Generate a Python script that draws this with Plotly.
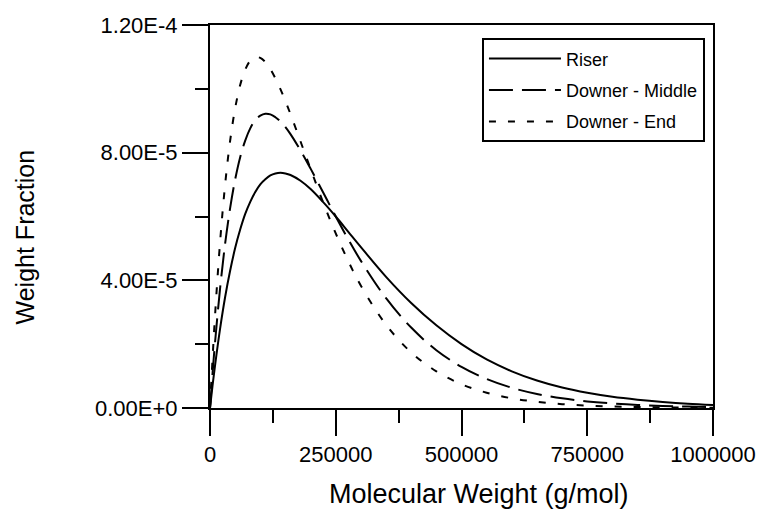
import plotly.graph_objects as go

# Molecular weight grid (g/mol)
mw = [0, 5000, 10000, 20000, 30000, 40000, 50000, 60000, 70000, 80000, 90000,
      100000, 110000, 120000, 130000, 140000, 150000, 160000, 180000, 200000,
      225000, 250000, 275000, 300000, 350000, 400000, 450000, 500000, 550000,
      600000, 650000, 700000, 750000, 800000, 850000, 900000, 950000, 1000000]

riser = [0, 6.9e-6, 1.33e-5, 2.48e-5, 3.47e-5, 4.30e-5, 5.01e-5, 5.59e-5, 6.08e-5,
         6.46e-5, 6.77e-5, 7.01e-5, 7.17e-5, 7.29e-5, 7.35e-5, 7.37e-5, 7.35e-5,
         7.30e-5, 7.12e-5, 6.86e-5, 6.45e-5, 6.00e-5, 5.52e-5, 5.04e-5, 4.11e-5,
         3.29e-5, 2.59e-5, 2.00e-5, 1.52e-5, 1.15e-5, 8.6e-6, 6.4e-6, 4.75e-6,
         3.5e-6, 2.6e-6, 1.9e-6, 1.35e-6, 0.95e-6]

downer_middle = [0, 1.07e-5, 2.05e-5, 3.74e-5, 5.14e-5, 6.26e-5, 7.16e-5, 7.86e-5,
                 8.38e-5, 8.76e-5, 9.02e-5, 9.16e-5, 9.22e-5, 9.20e-5, 9.11e-5,
                 8.98e-5, 8.80e-5, 8.58e-5, 8.07e-5, 7.50e-5, 6.75e-5, 6.00e-5,
                 5.28e-5, 4.61e-5, 3.44e-5, 2.52e-5, 1.81e-5, 1.29e-5, 9.07e-6,
                 6.33e-6, 4.39e-6, 3.02e-6, 2.07e-6, 1.42e-6, 9.6e-7, 6.5e-7,
                 4.4e-7, 3.0e-7]

downer_end = [0, 1.52e-5, 2.89e-5, 5.19e-5, 6.99e-5, 8.37e-5, 9.39e-5, 1.012e-4,
              1.060e-4, 1.088e-4, 1.099e-4, 1.097e-4, 1.084e-4, 1.062e-4, 1.033e-4,
              9.99e-5, 9.61e-5, 9.21e-5, 8.35e-5, 7.49e-5, 6.44e-5, 5.47e-5,
              4.60e-5, 3.83e-5, 2.61e-5, 1.74e-5, 1.15e-5, 7.43e-6, 4.78e-6,
              3.04e-6, 1.93e-6, 1.21e-6, 7.6e-7, 4.7e-7, 2.9e-7, 1.8e-7, 1.1e-7,
              7e-8]

x_ticks = [0, 250000, 500000, 750000, 1000000]
x_tick_labels = ["0", "250000", "500000", "750000", "1000000"]
x_minor = [125000, 375000, 625000, 875000]
y_ticks = [0, 4e-5, 8e-5, 1.2e-4]
y_tick_labels = ["0.00E+0", "4.00E-5", "8.00E-5", "1.20E-4"]
y_minor = [2e-5, 6e-5, 1e-4]

FONT = "Liberation Sans, Arial, sans-serif"

fig = go.Figure()
fig.add_trace(go.Scatter(x=mw, y=riser, mode="lines", name="Riser",
                         legendgroup="a", line=dict(color="black", width=2, shape="spline")))
fig.add_trace(go.Scatter(x=mw, y=downer_middle, mode="lines", name="Downer - Middle",
                         legendgroup="b", line=dict(color="black", width=2, shape="spline",
                                                    dash="24px,9px")))
fig.add_trace(go.Scatter(x=mw, y=downer_end, mode="lines", name="Downer - End",
                         legendgroup="c", line=dict(color="black", width=2, shape="spline",
                                                    dash="7px,12px")))

axis_common = dict(showline=True, linecolor="black", linewidth=2, mirror=True,
                   showgrid=False, zeroline=False, ticks="outside", ticklen=26,
                   tickwidth=2, tickcolor="black",
                   tickfont=dict(family=FONT, size=22, color="black"))

fig.update_xaxes(range=[0, 1000000], tickmode="array", tickvals=x_ticks,
                 ticktext=x_tick_labels,
                 minor=dict(tickmode="array", tickvals=x_minor, ticks="outside",
                            ticklen=13, tickwidth=2, tickcolor="black"),
                 **axis_common)
fig.update_yaxes(range=[0, 1.2e-4], tickmode="array", tickvals=y_ticks,
                 ticktext=y_tick_labels,
                 minor=dict(tickmode="array", tickvals=y_minor, ticks="outside",
                            ticklen=13, tickwidth=2, tickcolor="black"),
                 **axis_common)

fig.update_layout(
    width=768, height=509,
    margin=dict(l=210, r=51, t=25, b=101),
    paper_bgcolor="white", plot_bgcolor="white",
    font=dict(family=FONT, color="black"),
    legend=dict(x=0.984, xanchor="right", y=0.965, yanchor="top",
                bordercolor="black", borderwidth=2, bgcolor="white",
                font=dict(family=FONT, size=18, color="black"),
                itemwidth=72,
                traceorder="grouped", tracegroupgap=5),
    annotations=[
        dict(text="Molecular Weight (g/mol)", xref="paper", yref="paper",
             x=0.5345, y=-0.2245, xanchor="center", yanchor="middle",
             showarrow=False, font=dict(family=FONT, size=27, color="black")),
        dict(text="Weight Fraction", xref="paper", yref="paper",
             x=-0.3669, y=0.4465, xanchor="center", yanchor="middle",
             textangle=-90, showarrow=False,
             font=dict(family=FONT, size=25, color="black")),
    ],
)

fig.write_html("out.html")
